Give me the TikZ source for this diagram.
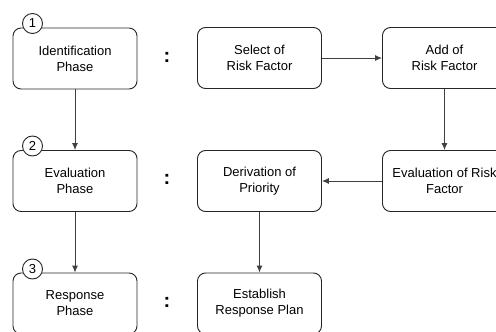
\documentclass[tikz,border=0pt]{standalone}
\usepackage{fontspec}
\setmainfont{Liberation Sans}
\usetikzlibrary{arrows.meta}
\begin{document}
\begin{tikzpicture}[x=1pt,y=-1pt,
  phasebox/.style={draw=black!85, line width=0.9pt, rounded corners=8pt, fill=white,
    minimum width=124pt, minimum height=61pt, align=center,
    font=\fontsize{13}{16}\selectfont, inner sep=0pt},
  stepnum/.style={draw=black!85, line width=0.9pt, circle, fill=white,
    minimum size=20pt, inner sep=0pt, font=\fontsize{13}{16}\selectfont},
  sep/.style={font=\fontsize{20}{20}\selectfont\bfseries, inner sep=0pt},
  link/.style={draw=black!75, line width=0.9pt, -{Latex[length=7pt,width=6pt]}}]
\useasboundingbox (0,0) rectangle (496,332);
\clip (0,0) rectangle (496,332);

% phases in the left column
\node[phasebox] (idp) at (75,58.5) {Identification\\Phase};
\node[phasebox] (evp) at (75,181) {Evaluation\\Phase};
\node[phasebox] (rsp) at (75,303.5) {Response\\Phase};

% step numbers sitting on the top edges
\node[stepnum] (n1) at (32.5,23.5) {1};
\node[stepnum] (n2) at (32.5,146) {2};
\node[stepnum] (n3) at (32.5,269) {3};

% separators
\node[sep] (c1) at (167,57) {:};
\node[sep] (c2) at (167,179.5) {:};
\node[sep] (c3) at (167,302) {:};

% activities of each phase
\node[phasebox] (sel) at (259.5,58) {Select of\\Risk Factor};
\node[phasebox] (add) at (444.5,58) {Add of\\Risk Factor};
\node[phasebox] (evr) at (444.5,181) {Evaluation of Risk\\Factor};
\node[phasebox] (der) at (259.5,181) {Derivation of\\Priority};
\node[phasebox] (est) at (259.5,303.5) {Establish\\Response Plan};

% flow
\draw[link] (idp) -- (evp);
\draw[link] (evp) -- (rsp);
\draw[link] (sel) -- (add);
\draw[link] (add) -- (evr);
\draw[link] (evr) -- (der);
\draw[link] (der) -- (est);
\end{tikzpicture}
\end{document}
